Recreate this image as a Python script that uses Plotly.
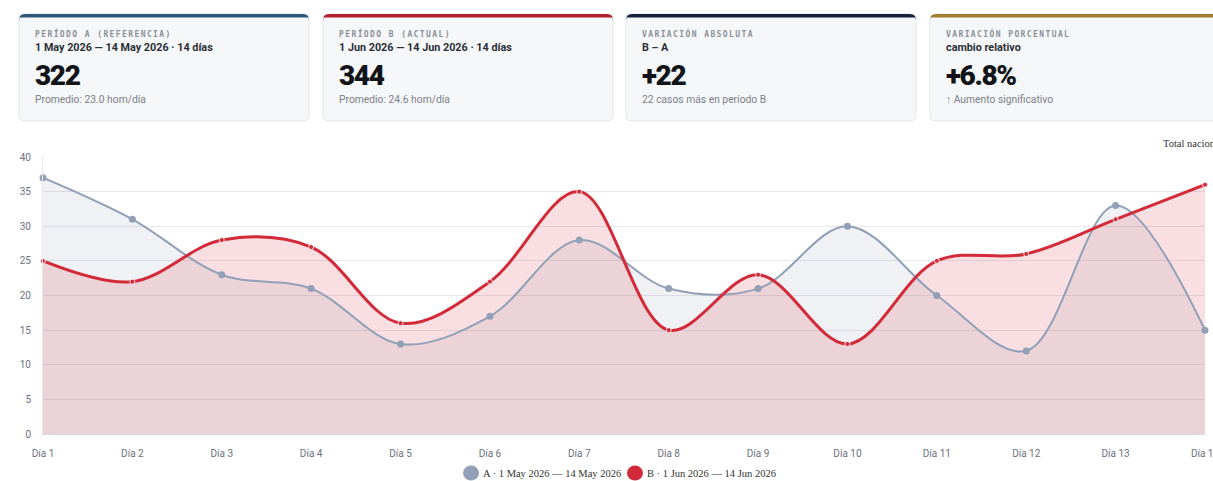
import plotly.graph_objects as go

# ---------------- data ----------------
days = [f"Día {i}" for i in range(1, 15)]
period_a = [37, 31, 23, 21, 13, 17, 28, 21, 21, 30, 20, 12, 33, 15]
period_b = [25, 22, 28, 27, 16, 22, 35, 15, 23, 13, 25, 26, 31, 36]
name_a = "A · 1 May 2026 — 14 May 2026"
name_b = "B · 1 Jun 2026 — 14 Jun 2026"
y_ticks = [0, 5, 10, 15, 20, 25, 30, 35, 40]

card_labels = ["PERÍODO A (REFERENCIA)", "PERÍODO B (ACTUAL)",
               "VARIACIÓN ABSOLUTA", "VARIACIÓN PORCENTUAL"]
card_subtitles = ["1 May 2026 — 14 May 2026 · 14 días",
                  "1 Jun 2026 — 14 Jun 2026 · 14 días",
                  "B – A", "cambio relativo"]
chart_title = "Total nacional"

tot_a = sum(period_a)
tot_b = sum(period_b)
diff = tot_b - tot_a
pct = diff / tot_a * 100
card_values = [f"{tot_a}", f"{tot_b}", f"{diff:+d}", f"{pct:+.1f}%"]
card_notes = [f"Promedio: {tot_a/len(period_a):.1f} hom/día",
              f"Promedio: {tot_b/len(period_b):.1f} hom/día",
              f"{diff} casos más en período B",
              "↑ Aumento significativo"]
card_colors = ["#2d5878", "#b41f2f", "#17213a", "#a37d2e"]

# ---------------- layout geometry (page pixels) ----------------
W, H = 1213, 481
PL, PR, PT, PB = 43, 1205, 157, 434   # plot area in page pixels


def px(x):
    return (x - PL) / (PR - PL)


def py(y):
    return (PB - y) / (PB - PT)


COL_A = "#91a0b7"
COL_B = "#d22a38"
SMOOTH = 1.0

fig = go.Figure()

# area fills first
fig.add_trace(go.Scatter(
    x=days, y=period_a, mode="lines",
    line=dict(width=0, shape="spline", smoothing=SMOOTH),
    fill="tozeroy", fillcolor="rgba(148,163,184,0.15)",
    showlegend=False, hoverinfo="skip"))
fig.add_trace(go.Scatter(
    x=days, y=period_b, mode="lines",
    line=dict(width=0, shape="spline", smoothing=SMOOTH),
    fill="tozeroy", fillcolor="rgba(215,40,55,0.15)",
    showlegend=False, hoverinfo="skip"))

# lines on top
fig.add_trace(go.Scatter(
    x=days, y=period_a, mode="lines+markers", name=name_a,
    line=dict(color=COL_A, width=2, shape="spline", smoothing=SMOOTH),
    marker=dict(size=7, color=COL_A),
    showlegend=False, cliponaxis=False, hoverinfo="skip"))
fig.add_trace(go.Scatter(
    x=days, y=period_b, mode="lines+markers", name=name_b,
    line=dict(color=COL_B, width=3, shape="spline", smoothing=SMOOTH),
    marker=dict(size=5, color=COL_B, line=dict(color="white", width=0.8)),
    showlegend=False, cliponaxis=False, hoverinfo="skip"))

shapes = []
annotations = []

# KPI cards
card_x0 = [19, 323, 626, 930]
CW = 290
CY0, CY1 = 14, 121
R = 6


def rounded_path(x0, y0, x1, y1, r):
    X0, X1 = px(x0), px(x1)
    Y0, Y1 = py(y0), py(y1)
    rx = r / (PR - PL)
    ry = r / (PB - PT)
    return (f"M {X0+rx},{Y0} L {X1-rx},{Y0} Q {X1},{Y0} {X1},{Y0-ry} "
            f"L {X1},{Y1+ry} Q {X1},{Y1} {X1-rx},{Y1} L {X0+rx},{Y1} "
            f"Q {X0},{Y1} {X0},{Y1+ry} L {X0},{Y0-ry} Q {X0},{Y0} {X0+rx},{Y0} Z")


def top_bar_path(x0, y0, x1, h, r):
    X0, X1 = px(x0), px(x1)
    Y0 = py(y0)
    Yb = py(y0 + h)
    rx = r / (PR - PL)
    ry = r / (PB - PT)
    return (f"M {X0},{Yb} L {X0},{Y0-ry} Q {X0},{Y0} {X0+rx},{Y0} "
            f"L {X1-rx},{Y0} Q {X1},{Y0} {X1},{Y0-ry} L {X1},{Yb} Z")


for i, x0 in enumerate(card_x0):
    x1 = x0 + CW
    shapes.append(dict(type="path", xref="paper", yref="paper",
                       path=rounded_path(x0, CY0, x1, CY1, R),
                       fillcolor="#f6f7f9", line=dict(color="#e2e5ea", width=1),
                       layer="below"))
    shapes.append(dict(type="path", xref="paper", yref="paper",
                       path=top_bar_path(x0, CY0, x1, 3.5, R),
                       fillcolor=card_colors[i], line=dict(width=0),
                       layer="above"))
    tx = px(x0 + 14)
    annotations.append(dict(
        x=tx, y=py(33), xref="paper", yref="paper", xanchor="left", yanchor="middle",
        text=f"<span style='letter-spacing:1.4px'><b>{card_labels[i]}</b></span>",
        showarrow=False, font=dict(family="DejaVu Sans Mono", size=8, color="#8b9099")))
    annotations.append(dict(
        x=tx, y=py(47.5), xref="paper", yref="paper", xanchor="left", yanchor="middle",
        text=f"<b>{card_subtitles[i]}</b>",
        showarrow=False, font=dict(family="Roboto", size=10.8, color="#2a2f36")))
    annotations.append(dict(
        x=px(x0 + 14), y=py(75), xref="paper", yref="paper", xanchor="left", yanchor="middle",
        text=f"<span style='letter-spacing:-1.4px'>{card_values[i]}</span>",
        showarrow=False,
        font=dict(family="Roboto", size=28, weight=900, color="#111418")))
    annotations.append(dict(
        x=tx, y=py(99.5), xref="paper", yref="paper", xanchor="left", yanchor="middle",
        text=card_notes[i],
        showarrow=False, font=dict(family="Roboto", size=10.3, color="#7b818a")))

annotations.append(dict(
    x=px(1161), y=py(143), xref="paper", yref="paper", xanchor="left", yanchor="middle",
    text=chart_title, showarrow=False,
    font=dict(family="Liberation Serif", size=10.5, color="#333333")))

# manual legend (circle + label)
legend_items = [(name_a, COL_A, 471), (name_b, COL_B, 635)]
for name, col, cx in legend_items:
    shapes.append(dict(type="circle", xref="paper", yref="paper",
                       xsizemode="pixel", ysizemode="pixel",
                       xanchor=px(cx), yanchor=py(473),
                       x0=-8, x1=8, y0=-7.5, y1=7.5,
                       fillcolor=col, line=dict(width=0)))
    annotations.append(dict(
        x=px(cx + 10), y=py(473), xref="paper", yref="paper",
        xanchor="left", yanchor="middle", text=name, showarrow=False,
        font=dict(family="Liberation Serif", size=10.5, color="#333333")))

fig.update_layout(
    width=W, height=H,
    margin=dict(l=PL, r=W - PR, t=PT, b=H - PB, pad=0),
    paper_bgcolor="white", plot_bgcolor="white",
    shapes=shapes, annotations=annotations,
    showlegend=False,
    xaxis=dict(type="category", range=[0, 13], showgrid=False, automargin=False,
               showline=True, linecolor="#d5d8de", linewidth=1,
               ticks="", tickfont=dict(family="Roboto", size=10, color="#6b7280"),
               ticklabelstandoff=10, fixedrange=True, zeroline=False),
    yaxis=dict(range=[0, 40], tickvals=y_ticks, showgrid=True, automargin=False,
               gridcolor="#e6e8ec", gridwidth=1, zeroline=False,
               showline=True, linecolor="#e6e8ec",
               ticks="", tickfont=dict(family="Roboto", size=10, color="#6b7280"),
               ticklabelstandoff=9, fixedrange=True),
)

fig.write_html(
    "out.html",
    config={"displayModeBar": False},
    post_script="document.body.style.margin='0';document.body.style.overflow='hidden';")
